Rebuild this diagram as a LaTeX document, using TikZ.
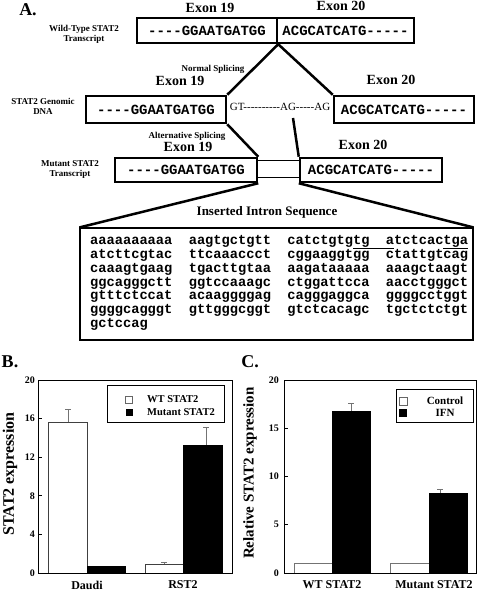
\documentclass[tikz,border=0pt]{standalone}
\usepackage{fontspec}
\setmainfont{Liberation Serif}
\setmonofont{Liberation Mono}
\newcommand\grp[1]{\makebox[98.6pt][l]{#1}}
\newcommand\hh{-\kern0pt}
\begin{document}
\begin{tikzpicture}[x=1pt,y=-1pt,
  lbl/.style={font=\bfseries\fontsize{9}{10}\selectfont, align=center, inner sep=0},
  exon/.style={font=\bfseries\fontsize{14}{16}\selectfont, inner sep=0},
  panel/.style={font=\bfseries\fontsize{18}{20}\selectfont, inner sep=0},
  sbox/.style={draw, line width=2.5pt, inner sep=0, minimum height=25pt,
    font=\ttfamily\bfseries\fontsize{14}{16}\selectfont},
  conn/.style={line width=2.5pt},
  mono/.style={font=\ttfamily\bfseries\fontsize{13.7}{15}\selectfont, inner sep=0},
  tick/.style={font=\bfseries\fontsize{10}{12}\selectfont, inner sep=0},
  xlab/.style={font=\bfseries\fontsize{12}{14}\selectfont, inner sep=0},
  err/.style={draw=black!55, line width=0.8pt},
  frame/.style={line width=0.8pt},
  wbar/.style={fill=white, draw=black!75, line width=0.7pt},
  bbar/.style={fill=black, draw=black, line width=0.7pt}]
\useasboundingbox (0,0) rectangle (477,593);

% ---------- Panel A ----------
\node[panel] (pA) at (28,10) {A.};
\node[exon] (e19a) at (210,8) {Exon 19};
\node[exon] (e20a) at (341,6) {Exon 20};
\node[lbl] (wtlab) at (84,34) {Wild-Type STAT2\\Transcript};
\node[sbox, minimum width=140pt] (wtL) at (207,30.5) {----GGAATGATGG};
\node[sbox, minimum width=137pt] (wtR) at (345.5,30.5) {ACGCATCATG-----};
\node[lbl] (ns) at (213,69) {Normal Splicing};

\node[exon] (e19b) at (180,81) {Exon 19};
\node[exon] (e20b) at (391,80) {Exon 20};
\node[lbl] (glab) at (43,106) {STAT2 Genomic\\DNA};
\node[sbox, minimum width=140pt, minimum height=27pt] (gL) at (156,109.5) {----GGAATGATGG};
\node[sbox, minimum width=140pt, minimum height=27pt] (gR) at (404,109.5) {ACGCATCATG-----};
\node[font=\fontsize{11}{12}\selectfont, inner sep=0] (intr) at (280,107)
  {GT\hh\hh\hh\hh\hh\hh\hh\hh\hh\hh AG\hh\hh\hh\hh\hh AG};
\coordinate (ag1) at (293,118);

\node[lbl] (as) at (187,136) {Alternative Splicing};
\node[exon] (e19c) at (188,147) {Exon 19};
\node[exon] (e20c) at (363,145) {Exon 20};
\node[lbl] (mlab) at (70,169) {Mutant STAT2\\Transcript};
\node[draw, line width=0.7pt, minimum width=43pt, minimum height=17pt, inner sep=0] (gap) at (278.5,168.5) {};
\node[sbox, minimum width=142pt, minimum height=24pt] (mL) at (186,170) {----GGAATGATGG};
\node[sbox, minimum width=142pt, minimum height=24pt] (mR) at (371,170) {ACGCATCATG-----};

\node[font=\bfseries\fontsize{13}{15}\selectfont, inner sep=0] (iis) at (267,212) {Inserted Intron Sequence};
\node[draw, line width=1.1pt, minimum width=393pt, minimum height=112pt, inner sep=0] (seq) at (276.5,284) {};

\draw[conn] (wtL.south east) -- (gL.north east);
\draw[conn] (wtL.south east) -- (gR.north west);
\draw[conn] (gL.south east) -- (mL.north east);
\draw[conn] (ag1) -- (mR.north west);
\draw[conn] (mL.south east) -- (seq.north west);
\draw[conn] (mR.south west) -- (seq.north east);

\node[mono, anchor=base west] (r1) at (90,244.6) {\grp{aaaaaaaaaa}\grp{aagtgctgtt}\grp{catctgtgtg}atctcactga};
\node[mono, anchor=base west] (r2) at (90,258.4) {\grp{atcttcgtac}\grp{ttcaaaccct}\grp{cggaaggtgg}ctattgtcag};
\node[mono, anchor=base west] (r3) at (90,272.3) {\grp{caaagtgaag}\grp{tgacttgtaa}\grp{aagataaaaa}aaagctaagt};
\node[mono, anchor=base west] (r4) at (90,286.1) {\grp{ggcagggctt}\grp{ggtccaaagc}\grp{ctggattcca}aacctgggct};
\node[mono, anchor=base west] (r5) at (90,299.9) {\grp{gtttctccat}\grp{acaaggggag}\grp{cagggaggca}ggggcctggt};
\node[mono, anchor=base west] (r6) at (90,313.8) {\grp{ggggcagggt}\grp{gttgggcggt}\grp{gtctcacagc}tgctctctgt};
\node[mono, anchor=base west] (r7) at (90,327.6) {gctccag};
\draw[line width=1.2pt] (353,248.5) -- (394,248.5);
\draw[line width=1.2pt] (443,248.5) -- (468,248.5);

% ---------- Panel B ----------
\node[panel] (pB) at (10,362) {B.};
\node[rotate=90, font=\bfseries\fontsize{16}{18}\selectfont, inner sep=0] (ylB) at (10,474) {STAT2 expression};
\node[xlab] (xB1) at (87,585) {Daudi};
\node[xlab] (xB2) at (183,585) {RST2};
\begin{scope}[shift={(0,573)}, y=9.65pt]
  \draw[err] (68,14.3) -- (68,17.0) (65,17.0) -- (71,17.0) (65,14.3) -- (71,14.3);
  \draw[err] (164,0.8) -- (164,1.1) (161,1.1) -- (167,1.1) (161,0.8) -- (167,0.8);
  \draw[err] (206,13.2) -- (206,15.1) (203,15.1) -- (209,15.1);
  \draw[wbar] (48,0) rectangle (87,15.6);
  \draw[bbar] (87,0) rectangle (125,0.7);
  \draw[wbar] (145,0) rectangle (183,0.9);
  \draw[bbar] (183,0) rectangle (222,13.2);
  \draw[err] (68,15.6) -- (68,17.0);
  \draw[frame] (38,0) rectangle (232,20);
  \foreach \v in {0,4,...,20} {
    \draw[frame] (38,\v) -- ++(4,0);
    \node[tick, anchor=east] at (35,\v) {\v};
  }
  \draw[frame, fill=white] (107,19.48) rectangle (224,15.65);
  \draw[fill=white, draw=black!60, line width=0.7pt] (125.5,18.35) rectangle (132.5,17.6);
  \fill (125.5,17.0) rectangle (132.5,16.25);
  \node[font=\bfseries\fontsize{10.5}{12}\selectfont, anchor=west, inner sep=0] at (147,17.98) {WT STAT2};
  \node[font=\bfseries\fontsize{10.5}{12}\selectfont, anchor=west, inner sep=0] at (147,16.63) {Mutant STAT2};
\end{scope}

% ---------- Panel C ----------
\node[panel] (pC) at (250,362) {C.};
\node[rotate=90, font=\bfseries\fontsize{15}{17}\selectfont, inner sep=0] (ylC) at (250,473) {Relative STAT2 expression};
\node[xlab] (xC1) at (332,585) {WT STAT2};
\node[xlab] (xC2) at (434,585) {Mutant STAT2};
\begin{scope}[shift={(0,573)}, y=9.65pt]
  \draw[err] (351,16.7) -- (351,17.6) (348,17.6) -- (354,17.6);
  \draw[err] (440,8.3) -- (440,8.7) (437,8.7) -- (443,8.7);
  \draw[wbar, draw=black!55] (294,0) rectangle (332,1);
  \draw[bbar] (332,0) rectangle (370,16.7);
  \draw[wbar, draw=black!55] (390,0) rectangle (429,1);
  \draw[bbar] (429,0) rectangle (467,8.3);
  \draw[frame] (284,0) rectangle (476,20);
  \foreach \v in {0,5,...,20} {
    \draw[frame] (284,\v) -- ++(4,0);
    \node[tick, anchor=east] at (279,\v) {\v};
  }
  \draw[frame, fill=white] (396,19.0) rectangle (473,15.6);
  \draw[fill=white, draw=black!60, line width=0.7pt] (399,18.2) rectangle (407,17.4);
  \fill (399,16.95) rectangle (407,16.15);
  \node[font=\bfseries\fontsize{11}{12}\selectfont, inner sep=0] at (445,17.8) {Control};
  \node[font=\bfseries\fontsize{11}{12}\selectfont, inner sep=0] at (445,16.55) {IFN};
\end{scope}
\end{tikzpicture}
\end{document}
